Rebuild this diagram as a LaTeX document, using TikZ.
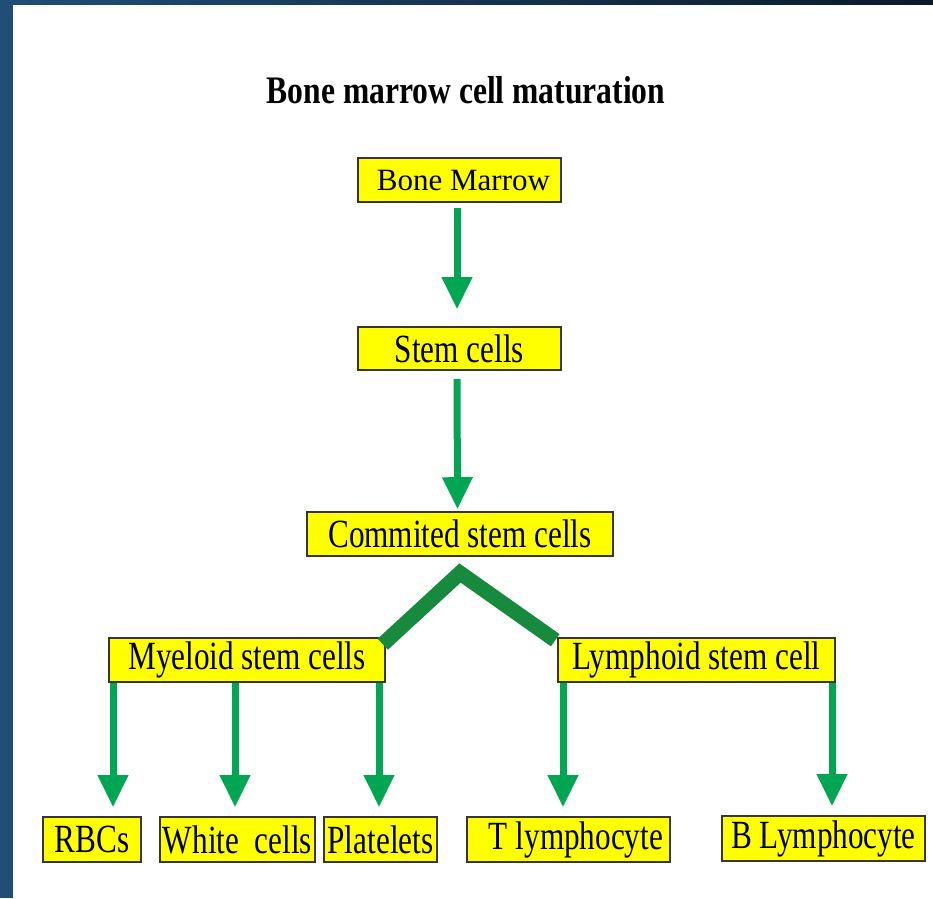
\documentclass[tikz,border=0pt]{standalone}
\usepackage{fontspec}
\setmainfont{Liberation Serif}
\newfontfamily\narrowfont[FakeStretch=0.78]{Liberation Serif}
\newfontfamily\titlefont[FakeStretch=0.81]{Liberation Serif}
\usetikzlibrary{arrows.meta}
\definecolor{boxyellow}{RGB}{255,255,0}
\definecolor{arrowgreen}{RGB}{0,166,81}
\definecolor{forkgreen}{RGB}{24,138,62}
\definecolor{frameblue}{RGB}{32,78,118}
\definecolor{framedark}{RGB}{12,26,40}

\begin{document}
\begin{tikzpicture}[x=1pt,y=-1pt,
    cellbox/.style={draw=black!90!yellow, line width=1.6pt, fill=boxyellow, inner sep=0pt,
        minimum height=44pt, font=\narrowfont\fontsize{40}{42}\selectfont},
    flow/.style={arrowgreen, line width=7pt, -{Triangle[length=32pt,width=29pt]}},
    fork/.style={forkgreen, line width=15pt}]
    \useasboundingbox (0,0) rectangle (933,898);

    % frame and page
    \fill[frameblue] (0,0) rectangle (933,898);
    \shade[left color=frameblue, right color=framedark] (0,0) rectangle (933,5);
    \fill[white] (13,5) rectangle (933,898);

    \node[font=\titlefont\bfseries\fontsize{39}{40}\selectfont, anchor=base] (title) at (466,103) {Bone marrow cell maturation};

    \node[cellbox, minimum width=203pt, font=\rmfamily\fontsize{31}{33}\selectfont] (bone) at (459.5,180) {\hspace*{8pt}Bone Marrow};
    \node[cellbox, minimum width=203pt, minimum height=43pt] (stem) at (459.5,348.5) {Stem cells};
    \node[cellbox, minimum width=306pt] (commit) at (460,534) {Commited stem cells};

    \node[cellbox, minimum width=276pt] (myeloid) at (247,660) {Myeloid stem cells};
    \node[cellbox, minimum width=277pt] (lymphoid) at (696.5,660) {Lymphoid stem cell};

    \node[cellbox, minimum width=98pt, minimum height=45pt] (rbc) at (92,839.5) {RBCs};
    \node[cellbox, minimum width=155pt, minimum height=45pt] (white) at (237.5,839.5) {White\ \ cells};
    \node[cellbox, minimum width=113pt, minimum height=45pt] (plate) at (380.5,839.5) {Platelets};
    \node[cellbox, minimum width=203pt, minimum height=45pt] (tlym) at (568.5,839.5) {\hspace*{15pt}T lymphocyte};
    \node[cellbox, minimum width=203pt, minimum height=45pt] (blym) at (823.5,838.5) {B Lymphocyte};

    \draw[flow, shorten <=5pt, shorten >=17pt] ([xshift=-2.5pt]bone.south) -- ([xshift=-2.5pt]stem.north);
    \draw[flow, shorten <=8pt, shorten >=2pt] ([xshift=-2.5pt]stem.south) -- ([xshift=-2.5pt]commit.north);

    % split into the two lines
    \coordinate (apex) at (460,573);
    \draw[fork] ([xshift=-3pt,yshift=-7pt]myeloid.north east) -- (apex) -- ([xshift=-2pt,yshift=-3pt]lymphoid.north west);

    \foreach \x/\src/\dst in {113/myeloid/rbc, 235/myeloid/white, 379/myeloid/plate,
                              563/lymphoid/tlym, 832/lymphoid/blym} {
        \coordinate (c\x) at (\x,0);
        \draw[flow, shorten >=9pt] (c\x |- \src.south) -- (c\x |- \dst.north);
    }
\end{tikzpicture}
\end{document}
